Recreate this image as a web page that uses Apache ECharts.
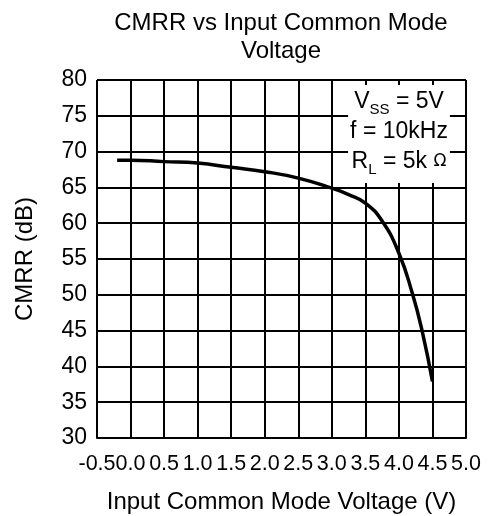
<!DOCTYPE html>
<html>
<head>
<meta charset="utf-8">
<script src="https://cdn.jsdelivr.net/npm/echarts@6/dist/echarts.min.js"></script>
<style>
  html, body { margin: 0; padding: 0; background: #fff; }
  #main { width: 490px; height: 516px; }
</style>
</head>
<body>
<div id="main"></div>
<script>
// input common mode voltage (V) vs CMRR (dB)
const vcm = [-0.2, 0.0, 0.5, 1.0, 1.5, 2.0, 2.5, 3.0, 3.25, 3.5, 3.75, 4.0, 4.2, 4.35, 4.5];
const cmrr = [68.8, 68.8, 68.6, 68.4, 67.8, 67.2, 66.3, 64.9, 64.0, 62.8, 60.3, 55.8, 50.2, 44.8, 37.9];

const font = "'Liberation Sans', Arial, sans-serif";
const chart = echarts.init(document.getElementById("main"));

const option = {
  animation: false,
  title: {
    text: "CMRR vs Input Common Mode\nVoltage",
    left: 281,
    top: 9,
    padding: 0,
    textAlign: "center",
    textStyle: { fontFamily: font, fontSize: 24, fontWeight: "normal", color: "#000", lineHeight: 28 },
  },
  grid: { left: 97, right: 24, top: 80, bottom: 78, outerBoundsMode: "none" },
  xAxis: {
    type: "value",
    min: -0.5,
    max: 5,
    interval: 0.5,
    name: "Input Common Mode Voltage (V)",
    nameLocation: "middle",
    nameGap: 52,
    nameTextStyle: { fontFamily: font, fontSize: 24, color: "#000" },
    axisLine: { show: true, lineStyle: { color: "#000", width: 2 } },
    axisTick: { show: false },
    axisLabel: {
      margin: 15,
      fontFamily: font,
      fontSize: 21.5,
      color: "#000",
      showMinLabel: true,
      showMaxLabel: true,
      formatter: (v) => v.toFixed(1),
    },
    splitLine: { show: true, lineStyle: { color: "#000", width: 2 } },
  },
  yAxis: {
    type: "value",
    min: 30,
    max: 80,
    interval: 5,
    name: "CMRR (dB)",
    nameLocation: "middle",
    nameGap: 60,
    nameTextStyle: { fontFamily: font, fontSize: 24, color: "#000" },
    axisLine: { show: true, lineStyle: { color: "#000", width: 2 } },
    axisTick: { show: false },
    axisLabel: { margin: 10, fontFamily: font, fontSize: 23, color: "#000", showMinLabel: true, showMaxLabel: true },
    splitLine: { show: true, lineStyle: { color: "#000", width: 2 } },
  },
  graphic: [
    {
      type: "text",
      x: 399,
      y: 85,
      z: 100,
      style: {
        text: "V{sub|SS} = 5V\nf = 10kHz\nR{sub|L} = 5k {om|Ω}",
        align: "center",
        verticalAlign: "top",
        fontFamily: font,
        fontSize: 23,
        lineHeight: 30,
        fill: "#000",
        backgroundColor: "#fff",
        padding: [2, 2, 6, 2],
        rich: {
          sub: { fontFamily: font, fontSize: 15, lineHeight: 14, verticalAlign: "bottom", fill: "#000" },
          om: { fontFamily: "'DejaVu Sans', sans-serif", fontSize: 17, lineHeight: 30, fill: "#000" },
        },
      },
    },
  ],
  series: [
    {
      type: "line",
      data: vcm.map((v, i) => [v, cmrr[i]]),
      smooth: 0.5,
      showSymbol: false,
      lineStyle: { color: "#000", width: 3.5 },
      z: 5,
    },
  ],
};

chart.setOption(option);
</script>
</body>
</html>
